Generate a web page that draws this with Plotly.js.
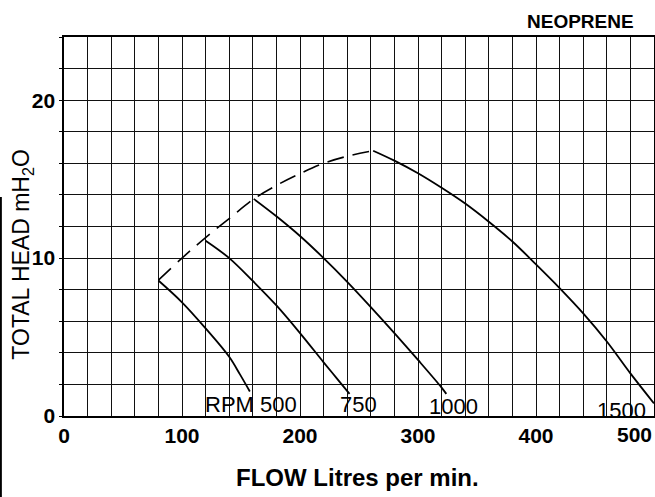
<!DOCTYPE html>
<html>
<head>
<meta charset="utf-8">
<script src="https://cdn.plot.ly/plotly-3.0.1.min.js"></script>
<style>html,body{margin:0;padding:0;background:#fff;}#chart{width:655px;height:497px;}</style>
</head>
<body>
<div id="chart"></div>
<script>
// Pump curves (FLOW Litres per min. vs TOTAL HEAD mH2O)
const rpm500Flow  = [80, 100, 120, 140, 149, 157.5];
const rpm500Head  = [8.58, 7.2, 5.55, 3.75, 2.65, 1.55];

const rpm750Flow  = [120, 140, 160, 180, 200, 220, 231, 242];
const rpm750Head  = [11.1, 10.0, 8.55, 7.0, 5.25, 3.4, 2.4, 1.4];

const rpm1000Flow = [160.8, 180, 200, 220, 240, 260, 280, 300, 320, 324];
const rpm1000Head = [13.75, 12.65, 11.4, 10.0, 8.5, 6.9, 5.25, 3.55, 1.8, 1.4];

const rpm1500Flow = [262, 280, 300, 320, 340, 360, 380, 400, 420, 440, 460, 480, 500];
const rpm1500Head = [16.8, 16.17, 15.37, 14.45, 13.45, 12.3, 11.05, 9.6, 8.1, 6.5, 4.72, 2.7, 0.8];

// dashed envelope through the curve tops
const maxFlow = [80, 100, 120, 140, 161, 180, 200, 220, 240, 262];
const maxHead = [8.6, 10.0, 11.3, 12.5, 13.75, 14.6, 15.35, 16.0, 16.45, 16.8];

// curve labels
const labelText = ['RPM 500', '750', '1000', '1500'];
const labelFlow = [158.6, 249.7, 330.3, 472.4];
const labelHead = [0.73, 0.7, 0.59, 0.32];

const xTicks = [0, 100, 200, 300, 400];
const yTicks = [0, 10, 20];

function curve(x, y, dash) {
  return {type: 'scatter', x: x, y: y, mode: 'lines', hoverinfo: 'skip', showlegend: false,
    line: {color: '#000', width: dash ? 1.6 : 1.8, dash: dash || 'solid', shape: 'spline', smoothing: 1}};
}
const traces = [
  curve(rpm500Flow, rpm500Head),
  curve(rpm750Flow, rpm750Head),
  curve(rpm1000Flow, rpm1000Head),
  curve(rpm1500Flow, rpm1500Head),
  curve(maxFlow, maxHead, '17px,9px')
];

const FAM = 'Liberation Sans, Arial, sans-serif';
const tickFont = {family: FAM, size: 21, color: '#000', weight: 'bold'};

const annotations = labelText.map((t, i) => ({
  x: labelFlow[i], y: labelHead[i], xref: 'x', yref: 'y', text: t, showarrow: false,
  xanchor: 'center', yanchor: 'middle',
  font: {family: FAM, size: 22, color: '#000'}
}));
annotations.push({x: 500, y: 0, xref: 'x', yref: 'y', text: '500', showarrow: false,
  xanchor: 'right', yanchor: 'top', yshift: -5, font: tickFont});
annotations.push({x: 0.875, y: 1.042, xref: 'paper', yref: 'paper', text: 'NEOPRENE', showarrow: false,
  xanchor: 'center', yanchor: 'middle',
  font: {family: FAM, size: 19, color: '#000', weight: 'bold'}});
annotations.push({x: 0.497, y: -0.161, xref: 'paper', yref: 'paper', text: 'FLOW Litres per min.', showarrow: false,
  xanchor: 'center', yanchor: 'middle',
  font: {family: FAM, size: 24, color: '#000', weight: 'bold'}});
annotations.push({x: -0.07, y: 0.425, xref: 'paper', yref: 'paper', text: 'TOTAL HEAD mH<sub>2</sub>O', showarrow: false,
  xanchor: 'center', yanchor: 'middle', textangle: -90,
  font: {family: FAM, size: 23, color: '#000'}});

const layout = {
  width: 655, height: 497,
  margin: {l: 64, r: 1, t: 37, b: 81, pad: 0},
  paper_bgcolor: '#fff', plot_bgcolor: '#fff',
  showlegend: false,
  xaxis: {
    range: [0, 500], tickvals: xTicks, ticktext: xTicks.map(String),
    showgrid: true, gridcolor: '#111', gridwidth: 1,
    minor: {dtick: 20, tick0: 0, showgrid: true, gridcolor: '#111', gridwidth: 1},
    showline: true, mirror: true, linecolor: '#000', linewidth: 1.6,
    zeroline: false, ticks: '', tickfont: tickFont, ticklabelstandoff: 0,
    fixedrange: true
  },
  yaxis: {
    range: [0, 24], tickvals: yTicks, ticktext: yTicks.map(String),
    showgrid: true, gridcolor: '#111', gridwidth: 1,
    minor: {dtick: 2, tick0: 0, showgrid: true, gridcolor: '#111', gridwidth: 1, ticks: 'outside', ticklen: 3, tickcolor: '#000'},
    showline: true, mirror: true, linecolor: '#000', linewidth: 1.6,
    zeroline: false, ticks: 'outside', ticklen: 3, tickcolor: '#000', tickfont: tickFont,
    fixedrange: true
  },
  annotations: annotations,
  shapes: [{type: 'line', xref: 'paper', yref: 'paper', x0: -0.107, x1: -0.107, y0: 0.578, y1: -0.214,
    line: {color: '#000', width: 2}}]
};

Plotly.newPlot('chart', traces, layout, {staticPlot: true, displayModeBar: false});
</script>
</body>
</html>
